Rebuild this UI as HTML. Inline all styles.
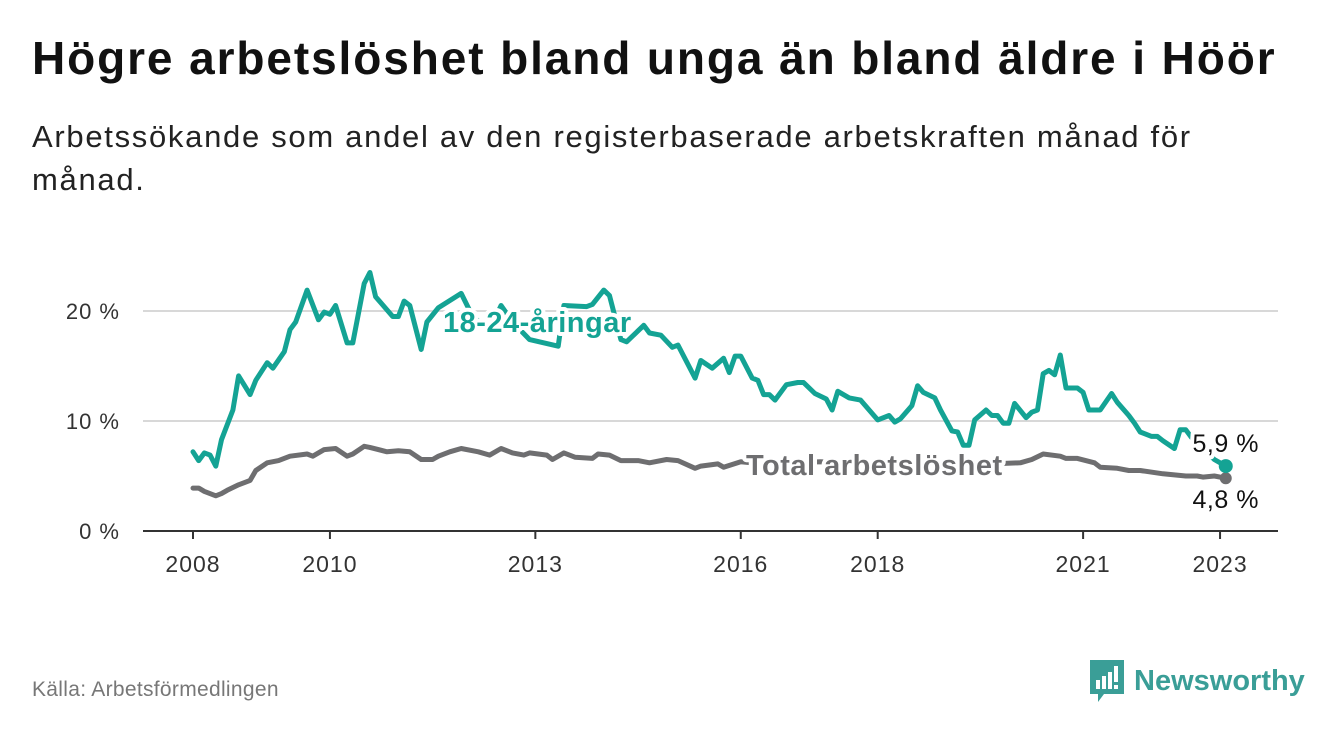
<!DOCTYPE html>
<html><head><meta charset="utf-8"><style>
body{margin:0;background:#fff;font-family:"Liberation Sans",sans-serif;}
#wrap{position:relative;width:1340px;height:734px;overflow:hidden;}
h1{position:absolute;left:32px;top:31px;margin:0;font-size:46px;font-weight:bold;color:#111;letter-spacing:1.9px;white-space:nowrap;}
.sub{position:absolute;left:32px;top:115px;width:1290px;font-size:31px;line-height:43px;color:#222;letter-spacing:1.7px;white-space:nowrap;}
.src{position:absolute;left:32px;top:678px;font-size:21px;color:#777;letter-spacing:0.3px;}
.logo{position:absolute;left:1090px;top:660px;display:flex;align-items:center;}
.logo span{font-size:29px;font-weight:bold;color:#3a9e97;margin-left:10px;}
</style></head><body>
<div id="wrap">
<h1>Högre arbetslöshet bland unga än bland äldre i Höör</h1>
<div class="sub">Arbetssökande som andel av den registerbaserade arbetskraften månad för<br>månad.</div>
<svg id="chart" width="1340" height="734" style="position:absolute;left:0;top:0"></svg>
<div class="src">Källa: Arbetsförmedlingen</div>
<div class="logo">
<svg width="34" height="42"><path d="M0 0H34V34H14L8 42V34H0Z" fill="#3a9e97"/><rect x="6" y="20" width="4" height="9" fill="#fff"/><rect x="12" y="16" width="4" height="13" fill="#fff"/><rect x="18" y="12" width="4" height="17" fill="#fff"/><rect x="24" y="6" width="4" height="16" fill="#fff"/><rect x="24" y="25" width="4" height="4" fill="#fff"/></svg>
<span>Newsworthy</span></div>
</div>
<script>
const yTicks=[0,10,20];
const yTickLabels=["0 %","10 %","20 %"];
const xTickYears=[2008,2010,2013,2016,2018,2021,2023];
const youthMonths=[0,1,2,3,4,5,7,8,10,11,13,14,16,17,18,20,22,23,24,25,27,28,30,31,32,35,36,37,38,40,41,43,47,49,52,54,56,59,64,65,69,70,72,73,75,76,79,80,82,84,85,88,89,91,93,94,95,96,98,99,100,101,102,104,106,107,109,111,112,113,115,117,120,122,123,124,126,127,128,130,131,133,134,135,136,137,139,140,141,142,143,144,146,147,148,149,150,151,152,153,155,156,157,158,159,161,162,164,165,166,168,169,170,172,173,174,175,177,179,181];
const youthValues=[7.2,6.4,7.1,6.9,5.9,8.3,11,14.1,12.4,13.7,15.3,14.8,16.3,18.3,19,21.9,19.2,19.9,19.7,20.5,17.1,17.1,22.5,23.5,21.3,19.5,19.5,20.9,20.5,16.5,19,20.3,21.6,19.5,18.3,20.5,19,17.4,16.8,20.5,20.4,20.6,21.9,21.4,17.4,17.2,18.7,18,17.8,16.7,16.9,13.9,15.5,14.8,15.7,14.4,15.9,15.9,13.9,13.7,12.4,12.4,11.9,13.3,13.5,13.5,12.5,12,11,12.7,12.1,11.9,10.1,10.5,9.9,10.2,11.4,13.2,12.6,12.1,11,9.1,9.0,7.8,7.8,10.1,11,10.5,10.5,9.8,9.8,11.6,10.3,10.8,11,14.3,14.6,14.2,16,13,13,12.6,11,11,11,12.5,11.7,10.5,9.8,9,8.6,8.6,8.2,7.5,9.2,9.2,8.5,7.5,6.5,5.9];
const totalMonths=[0,1,2,4,5,6,8,10,11,13,15,17,20,21,23,25,27,28,30,31,34,36,38,40,42,43,45,47,50,52,54,56,58,59,62,63,65,67,70,71,73,75,78,80,83,85,88,89,92,93,96,100,110,120,130,140,145,147,149,152,153,155,158,159,162,164,166,170,172,174,176,177,179,181];
const totalValues=[3.9,3.9,3.6,3.2,3.4,3.7,4.2,4.6,5.5,6.2,6.4,6.8,7,6.8,7.4,7.5,6.8,7,7.7,7.6,7.2,7.3,7.2,6.5,6.5,6.8,7.2,7.5,7.2,6.9,7.5,7.1,6.9,7.1,6.9,6.5,7.1,6.7,6.6,7,6.9,6.4,6.4,6.2,6.5,6.4,5.7,5.9,6.1,5.8,6.3,6.1,6.3,6.0,5.9,6.1,6.2,6.5,7,6.8,6.6,6.6,6.2,5.8,5.7,5.5,5.5,5.2,5.1,5,5,4.9,5,4.8];
const NS="http://www.w3.org/2000/svg";
const svg=document.getElementById('chart');
const X0=193,PX_YEAR=68.47,Y0=531,PX_PCT=11;
const xMonth=m=>X0+m/12*PX_YEAR;
const xYear=y=>X0+(y-2008)*PX_YEAR;
const yVal=v=>Y0-v*PX_PCT;
function mk(t,a){const e=document.createElementNS(NS,t);for(const k in a)e.setAttribute(k,a[k]);svg.appendChild(e);return e;}
yTicks.forEach((t,i)=>{
 if(t>0){const g=mk('line',{x1:143,x2:1278,y1:yVal(t),y2:yVal(t),stroke:'#d8d8d8','stroke-width':2});
 
 }
 const l=mk('text',{x:120,y:yVal(t)+8,'text-anchor':'end','font-size':22,'letter-spacing':1,fill:'#333','font-family':'Liberation Sans, sans-serif'});
 l.textContent=yTickLabels[i];
 
 
});
const ax=mk('line',{x1:143,x2:1278,y1:Y0,y2:Y0,stroke:'#333','stroke-width':2});


xTickYears.forEach(y=>{
 const t=mk('line',{x1:xYear(y),x2:xYear(y),y1:Y0,y2:Y0+8,stroke:'#333','stroke-width':2});
 
 
 const l=mk('text',{x:xYear(y),y:572,'text-anchor':'middle','font-size':23,'letter-spacing':1,fill:'#333','font-family':'Liberation Sans, sans-serif'});
 l.textContent=y;
 
 
});
function line(ms,vs,color,name){
 const d=ms.map((m,i)=>(i?'L':'M')+xMonth(m).toFixed(1)+' '+yVal(vs[i]).toFixed(1)).join(' ');
 const p=mk('path',{d:d,fill:'none',stroke:color,'stroke-width':5,'stroke-linejoin':'round','stroke-linecap':'round'});
 
 
}
line(totalMonths,totalValues,'#6e6e70','total-line');
line(youthMonths,youthValues,'#14a394','youth-line');
function label(x,y,txt,color,name,bold,anchor,size){
 const t=mk('text',{x:x,y:y,'text-anchor':anchor||'start','font-size':size,'font-weight':bold?'bold':'normal','letter-spacing':0.5,fill:color,stroke:'#fff','stroke-width':8,'paint-order':'stroke','stroke-linejoin':'round','font-family':'Liberation Sans, sans-serif'});
 t.textContent=txt;
 
 
}
label(443,332,'18-24-åringar','#14a394','youth-series-label',true,'start',29);
label(746,475,'Total arbetslöshet','#6e6e70','total-series-label',true,'start',29);
const lm=youthMonths[youthMonths.length-1],tm=totalMonths[totalMonths.length-1];
const dg=mk('circle',{cx:xMonth(tm),cy:yVal(totalValues[totalValues.length-1]),r:6,fill:'#6e6e70'});


const dy=mk('circle',{cx:xMonth(lm),cy:yVal(youthValues[youthValues.length-1]),r:7,fill:'#14a394'});


label(xMonth(lm),yVal(youthValues[youthValues.length-1])-14,youthValues[youthValues.length-1].toFixed(1).replace('.',',')+' %','#111','youth-end-value',false,'middle',25);
label(xMonth(tm),yVal(totalValues[totalValues.length-1])+30,totalValues[totalValues.length-1].toFixed(1).replace('.',',')+' %','#111','total-end-value',false,'middle',25);
</script>
</body></html>
